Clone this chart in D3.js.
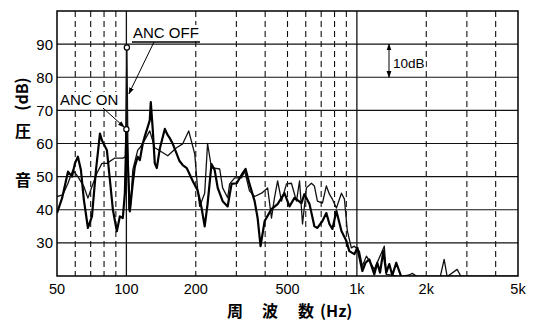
<!DOCTYPE html>
<html>
<head>
<meta charset="utf-8">
<script src="https://cdn.jsdelivr.net/npm/d3@7"></script>
<style>
  body { margin: 0; background: #fff; }
  svg { display: block; }
</style>
</head>
<body>
<div id="chart"></div>
<script>
// frequency (Hz) / level (dB) pairs
const ancOn = [
  [50, 39], [52.6, 43.5], [55.8, 51.5], [58.1, 50], [59.8, 54], [61.6, 56], [63.5, 52],
  [65.4, 43], [68.1, 34.5], [70.9, 38], [73.8, 52], [76.8, 63], [78.3, 61], [82.3, 58],
  [87.4, 40], [90.9, 33.5], [93.7, 38], [96.5, 37.5], [98.5, 45], [100, 64],
  [101.2, 56], [103.5, 39.5], [106.6, 48], [108.8, 53], [112, 56], [114.4, 55],
  [117.8, 60], [120, 62], [123.8, 65], [126.3, 67], [127.6, 72.5], [130.2, 64],
  [132.8, 54], [135.5, 52.6], [139.6, 58.4], [146.8, 64.4], [151.2, 62.5], [154, 61.7],
  [158.9, 59.9], [165, 57], [170, 54.7], [175.5, 53.5], [182.7, 52.6], [194, 48.7],
  [204, 45.7], [212, 40.5], [218.6, 35], [225, 41.7], [234, 53.8], [241.5, 52],
  [249, 46.6], [261.6, 42.6], [275, 41], [286, 47.8], [301, 48], [319, 51], [329, 52.3],
  [342, 47.8], [360, 42.6], [371, 37.5], [382, 29], [398, 36.6], [426, 40.2],
  [453, 41.7], [485, 45], [510, 41], [536, 43.6], [575, 42], [592, 44.7], [623, 41.7],
  [654, 35], [674, 34.5], [709, 36.6], [737, 39], [760, 35.7], [783, 34.2], [815, 39.6],
  [857, 33.6], [900, 30.6], [927, 27.5], [975, 26.6], [1005, 28.5], [1056, 21.5],
  [1090, 24], [1132, 25], [1190, 20.5], [1226, 24], [1260, 21], [1302, 27.5],
  [1341, 21], [1382, 23.6], [1424, 20.2], [1482, 24], [1557, 19.8], [5000, 19.8]
];

const ancOff = [
  [50, 44], [53, 44.5], [55.8, 48], [58.6, 52], [61.6, 50], [65.4, 47], [68.1, 43.5],
  [70.9, 47], [74.5, 51], [78.3, 54], [82.3, 54], [89.1, 55.6], [96.5, 55.6], [99, 56],
  [100.5, 89], [101.5, 60], [102.5, 40], [104, 40], [106.6, 52], [112, 58], [114.4, 58.7],
  [120, 61], [126.3, 63.8], [132.8, 58.7], [139.6, 57.8], [151.2, 56.3], [165, 58.7],
  [175.5, 59.9], [186.4, 63.8], [198, 56.8], [204, 45.7], [208, 41], [218.6, 45],
  [225, 60], [234, 52.6], [241.5, 52.6], [254, 52.3], [261.6, 46.6], [275, 43.6],
  [280.5, 47.8], [295, 49.6], [316, 49.6], [326, 51.7], [342, 45.7], [360, 44],
  [386, 45], [410, 46.6], [426, 37.5], [439, 43.6], [453, 48.7], [471, 42.6],
  [495, 47.8], [520, 48], [547, 42.6], [564, 48.7], [581, 35.7], [604, 46.6],
  [635, 48], [654, 47.2], [674, 42.6], [709, 42], [737, 47.2], [760, 44.7], [783, 43.2],
  [815, 40.5], [857, 45], [883, 43.2], [909, 33.6], [946, 28.5], [975, 29],
  [1025, 27.5], [1056, 23], [1100, 26], [1190, 22], [1315, 29], [1341, 20.5],
  [1557, 19.8], [1687, 20.3], [1738, 20.8], [1827, 19.8], [2300, 19.8], [2391, 25],
  [2464, 19.8], [2722, 22], [2832, 19.8], [5000, 19.8]
];

const yTicks = [30, 40, 50, 60, 70, 80, 90];
const xTicks = [50, 100, 200, 500, 1000, 2000, 5000];
const xTickLabels = ["50", "100", "200", "500", "1k", "2k", "5k"];
const solidFreqs = [100, 1000];
const dashedFreqs = [60, 70, 80, 90, 200, 300, 400, 500, 600, 700, 800, 900, 2000, 3000, 4000];

const W = 533, H = 327;
const plot = { l: 57, r: 518, t: 11, b: 276 };

const x = d3.scaleLog().domain([50, 5000]).range([plot.l, plot.r]);
const y = d3.scaleLinear().domain([20, 100]).range([plot.b, plot.t]);

const svg = d3.select("#chart").append("svg")
  .attr("width", W)
  .attr("height", H)
  .attr("viewBox", [0, 0, W, H])
  .attr("font-family", "'Liberation Sans', Arial, sans-serif");

const defs = svg.append("defs");
defs.append("clipPath").attr("id", "plot-clip")
  .append("rect")
  .attr("x", plot.l).attr("y", plot.t)
  .attr("width", plot.r - plot.l).attr("height", plot.b - plot.t);

const marker = defs.append("marker")
  .attr("id", "arrow")
  .attr("viewBox", "0 0 10 10")
  .attr("refX", 9).attr("refY", 5)
  .attr("markerWidth", 7).attr("markerHeight", 7)
  .attr("orient", "auto-start-reverse");
marker.append("path").attr("d", "M0,1.5 L10,5 L0,8.5 Z").attr("fill", "#000");

// grid
const grid = svg.append("g").attr("class", "grid");
grid.selectAll("line.h")
  .data(yTicks)
  .join("line")
  .attr("x1", plot.l).attr("x2", plot.r)
  .attr("y1", d => y(d)).attr("y2", d => y(d))
  .attr("stroke", "#111").attr("stroke-width", 1.1);

grid.selectAll("line.vd")
  .data(dashedFreqs)
  .join("line")
  .attr("x1", d => x(d)).attr("x2", d => x(d))
  .attr("y1", plot.t).attr("y2", plot.b)
  .attr("stroke", "#111").attr("stroke-width", 1.1)
  .attr("stroke-dasharray", "6,4");

grid.selectAll("line.vs")
  .data(solidFreqs)
  .join("line")
  .attr("class", "vs")
  .attr("x1", d => x(d)).attr("x2", d => x(d))
  .attr("y1", plot.t).attr("y2", plot.b)
  .attr("stroke", "#111").attr("stroke-width", 1.3);

// lines
const lineGen = d3.line()
  .x(d => x(d[0]))
  .y(d => y(d[1]));

const content = svg.append("g").attr("clip-path", "url(#plot-clip)");
content.append("path")
  .attr("d", lineGen(ancOff))
  .attr("fill", "none")
  .attr("stroke", "#111")
  .attr("stroke-width", 1.3)
  .attr("stroke-linejoin", "round");
content.append("path")
  .attr("d", lineGen(ancOn))
  .attr("fill", "none")
  .attr("stroke", "#000")
  .attr("stroke-width", 2.2)
  .attr("stroke-linejoin", "round");

// frame
svg.append("rect")
  .attr("x", plot.l).attr("y", plot.t)
  .attr("width", plot.r - plot.l).attr("height", plot.b - plot.t)
  .attr("fill", "none").attr("stroke", "#000").attr("stroke-width", 1.5);

// tick labels
svg.append("g").selectAll("text")
  .data(yTicks)
  .join("text")
  .attr("x", 53)
  .attr("y", d => y(d))
  .attr("dy", "0.36em")
  .attr("text-anchor", "end")
  .attr("font-size", 15)
  .text(d => d);

svg.append("g").selectAll("text")
  .data(xTicks)
  .join("text")
  .attr("x", d => x(d))
  .attr("y", 294)
  .attr("text-anchor", "middle")
  .attr("font-size", 14.5)
  .text((d, i) => xTickLabels[i]);

// axis titles
const xTitle = svg.append("g")
  .attr("font-family", "'Noto Sans CJK JP', sans-serif")
  .attr("font-size", 16)
  .attr("font-weight", "bold");
xTitle.append("text").attr("x", 235).attr("y", 317).attr("text-anchor", "middle").text("周");
xTitle.append("text").attr("x", 270).attr("y", 317).attr("text-anchor", "middle").text("波");
xTitle.append("text").attr("x", 306).attr("y", 317).attr("text-anchor", "middle").text("数");
xTitle.append("text").attr("x", 320).attr("y", 317).text("(Hz)");

const yTitle = svg.append("g")
  .attr("font-family", "'Noto Sans CJK JP', sans-serif")
  .attr("font-size", 16)
  .attr("font-weight", "bold");
yTitle.append("text").attr("x", 23).attr("y", 186).attr("text-anchor", "middle").text("音");
yTitle.append("text").attr("x", 23).attr("y", 137).attr("text-anchor", "middle").text("圧");
yTitle.append("text")
  .attr("transform", "translate(28,94) rotate(-90)")
  .attr("text-anchor", "middle")
  .text("(dB)");

// annotations
const ann = svg.append("g").attr("font-size", 15);
const offPeak = [100.5, 89];
const onPeak = [100, 64.3];

// label with white backing so grid lines don't run through the letters
function label(tx, ty, str, size) {
  const t = ann.append("text").attr("x", tx).attr("y", ty).attr("font-size", size).text(str);
  const bb = t.node().getBBox();
  ann.insert("rect", () => t.node())
    .attr("x", bb.x - 1).attr("y", bb.y + 1)
    .attr("width", bb.width + 2).attr("height", bb.height - 2)
    .attr("fill", "#fff");
  return t;
}

label(133, 38, "ANC OFF", 15);
ann.append("line")
  .attr("x1", 132).attr("x2", 200).attr("y1", 42).attr("y2", 42)
  .attr("stroke", "#000").attr("stroke-width", 1.3);
ann.append("line")
  .attr("x1", 154).attr("y1", 42)
  .attr("x2", x(offPeak[0]) + 2).attr("y2", y(75))
  .attr("stroke", "#000").attr("stroke-width", 1)
  .attr("marker-end", "url(#arrow)");
ann.append("circle")
  .attr("cx", x(offPeak[0])).attr("cy", y(offPeak[1]))
  .attr("r", 2.6)
  .attr("fill", "#fff").attr("stroke", "#000").attr("stroke-width", 1.2);

label(60, 105, "ANC ON", 15);
ann.append("line")
  .attr("x1", 103).attr("y1", 108)
  .attr("x2", x(onPeak[0]) - 2).attr("y2", y(onPeak[1]) - 2)
  .attr("stroke", "#000").attr("stroke-width", 1)
  .attr("marker-end", "url(#arrow)");
ann.append("circle")
  .attr("cx", x(onPeak[0])).attr("cy", y(onPeak[1]))
  .attr("r", 2.6)
  .attr("fill", "#fff").attr("stroke", "#000").attr("stroke-width", 1.2);

// 10 dB scale marker
ann.append("line")
  .attr("x1", 389).attr("x2", 389)
  .attr("y1", y(90)).attr("y2", y(80))
  .attr("stroke", "#000").attr("stroke-width", 1)
  .attr("marker-start", "url(#arrow)")
  .attr("marker-end", "url(#arrow)");
label(393, 68, "10dB", 13.5);
</script>
</body>
</html>
